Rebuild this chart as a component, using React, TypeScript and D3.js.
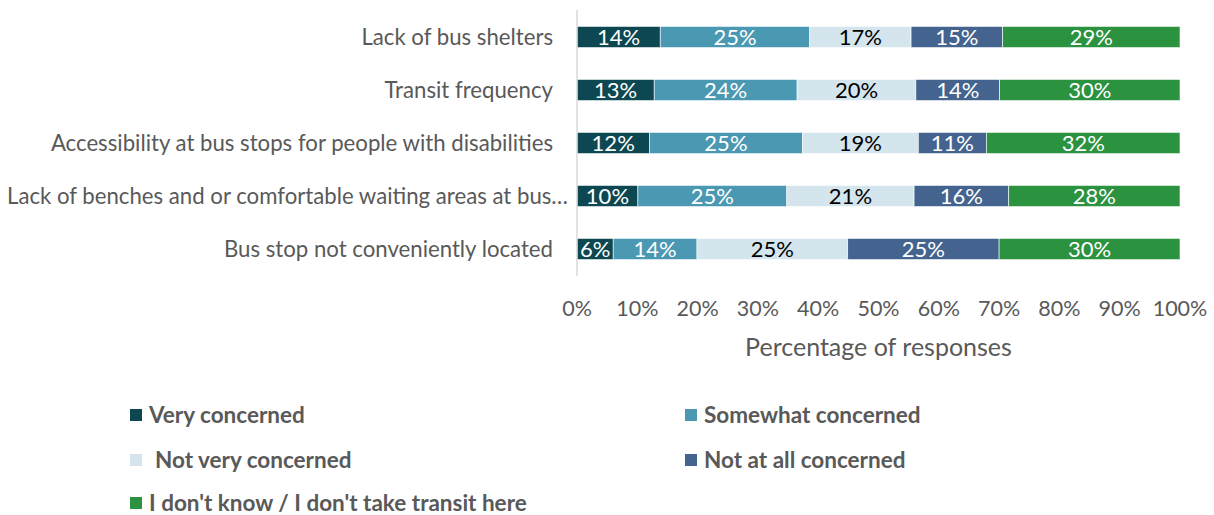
import React from "react";
import * as d3 from "d3";

const categories = [
  "Lack of bus shelters",
  "Transit frequency",
  "Accessibility at bus stops for people with disabilities",
  "Lack of benches and or comfortable waiting areas at bus…",
  "Bus stop not conveniently located",
];
const seriesNames = [
  "Very concerned",
  "Somewhat concerned",
  "Not very concerned",
  "Not at all concerned",
  "I don't know / I don't take transit here",
];
const veryConcerned = [13.8, 12.8, 12.0, 10.1, 6.0];
const somewhatConcerned = [24.8, 23.7, 25.4, 24.7, 13.9];
const notVeryConcerned = [16.8, 19.7, 19.2, 21.1, 25.0];
const notAtAllConcerned = [15.2, 13.9, 11.3, 15.7, 25.1];
const dontKnow = [29.4, 29.9, 32.1, 28.4, 30.0];
const xTicks = [0, 10, 20, 30, 40, 50, 60, 70, 80, 90, 100];

const colors = ["#0D4852", "#4B98B3", "#D5E5EE", "#44648F", "#2B923F"];
const labelColors = ["#FFFFFF", "#FFFFFF", "#000000", "#FFFFFF", "#FFFFFF"];

const W = 1214;
const H = 515;
const FONT = "Lato, 'Open Sans', sans-serif";

export default function App() {
  const series = [veryConcerned, somewhatConcerned, notVeryConcerned, notAtAllConcerned, dontKnow];
  const x = d3.scaleLinear().domain([0, 100]).range([577, 1180]);
  const y = d3
    .scaleBand<string>()
    .domain(categories)
    .range([10.5, 275.5])
    .paddingInner(0.6)
    .paddingOuter(0.3);

  const rows = categories.map((c, i) => {
    const vals = series.map((s) => s[i]);
    const stack = d3.cumsum(vals);
    return { c, vals, stack };
  });

  const legendPos = [
    { x: 130, y: 415 },
    { x: 685, y: 415 },
    { x: 130, y: 460 },
    { x: 685, y: 460 },
    { x: 130, y: 503 },
  ];

  return (
    <svg
      width={W}
      height={H}
      style={{ position: "absolute", left: 0, top: 0, background: "#fff" }}
      fontFamily={FONT}
    >
      {rows.map((r) =>
        r.vals.map((v, j) => {
          const x0 = x(r.stack[j] - v);
          const x1 = x(r.stack[j]);
          const yy = y(r.c)!;
          return (
            <g key={r.c + j}>
              <rect
                x={x0}
                y={yy}
                width={x1 - x0}
                height={y.bandwidth()}
                fill={colors[j]}
                stroke="#ffffff"
                strokeWidth={0.6}
              />
              <text
                x={(x0 + x1) / 2}
                y={yy + y.bandwidth() / 2}
                dy="0.36em"
                textAnchor="middle"
                fontSize={22}
                fill={labelColors[j]}
              >
                {Math.round(v)}%
              </text>
            </g>
          );
        })
      )}
      <line x1={577} x2={577} y1={10} y2={276} stroke="#D9D9D9" strokeWidth={1.5} />
      {categories.map((c) => {
        const truncated = c.endsWith("…");
        return (
          <text
            key={c}
            x={truncated ? 568 : 553}
            y={y(c)! + y.bandwidth() / 2}
            dy="0.36em"
            textAnchor="end"
            fontSize={22.2}
            fill="#595959"
            textLength={truncated ? 561 : undefined}
            lengthAdjust={truncated ? "spacingAndGlyphs" : undefined}
          >
            {c}
          </text>
        );
      })}
      {xTicks.map((t) => (
        <text key={t} x={x(t)} y={308} dy="0.36em" textAnchor="middle" fontSize={21.5} fill="#595959">
          {t}%
        </text>
      ))}
      <text x={x(50)} y={347} dy="0.36em" textAnchor="middle" fontSize={25} fill="#595959">
        Percentage of responses
      </text>
      {seriesNames.map((n, i) => (
        <g key={n}>
          <rect x={legendPos[i].x} y={legendPos[i].y - 6} width={12} height={12} fill={colors[i]} />
          <text
            x={legendPos[i].x + 19 + (i === 2 ? 6 : 0)}
            y={legendPos[i].y}
            dy="0.36em"
            fontSize={22.5}
            fontWeight="bold"
            fill="#595959"
          >
            {n}
          </text>
        </g>
      ))}
    </svg>
  );
}
